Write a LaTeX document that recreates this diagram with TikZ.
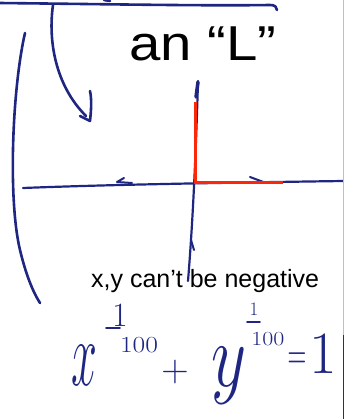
\RequirePackage{fix-cm}
\documentclass[tikz,border=0pt]{standalone}
\usepackage{fontspec}
\setmainfont{Liberation Sans}
\usepackage{graphicx}
\definecolor{pen}{RGB}{30,38,130}
\definecolor{redl}{RGB}{250,40,10}
\begin{document}
\begin{tikzpicture}[x=1pt,y=-1pt,
  penline/.style={draw=pen,line width=2.6pt,line cap=round,line join=round},
  axisline/.style={draw=pen,line width=2.2pt,line cap=round},
  barb/.style={draw=pen,line width=2pt,line cap=round,line join=round},
  fracbar/.style={draw=pen,line width=1.8pt,line cap=round},
  lshape/.style={draw=redl,line width=3pt},
  label/.style={inner sep=0pt,text=black},
  hand/.style={inner sep=0pt,text=pen}]
\useasboundingbox (0,0) rectangle (344,419);
% top line with hook
\draw[penline] (-2,3) .. controls (100,4) and (200,6) .. (270,5) .. controls (275,5) and (277,7) .. (277,10);
\draw[penline] (104,0) -- (110,1);
% curved arrow
\draw[penline] (53,5) .. controls (48,40) and (55,85) .. (86,116);
\draw[penline] (90,91) .. controls (92,100) and (91,112) .. (90,121) -- (80,116);
% left bracket
\draw[penline] (25,33) .. controls (12,90) and (8,200) .. (20,250) .. controls (26,275) and (33,292) .. (40,303);
% horizontal axis
\draw[axisline] (23,188) .. controls (100,185) and (200,183) .. (344,181);
\draw[barb] (132,183) -- (117,182) -- (124,178);
\draw[barb] (250,177) -- (266,183);
% vertical axis
\draw[axisline] (198,81) .. controls (196,150) and (193,220) .. (188,281);
\draw[draw=pen,line width=3.5pt,line cap=round] (198,82) -- (196,97);
\draw[barb] (191,240) -- (194,250);
% red L
\draw[lshape] (195,102) -- (195,183) -- (283,183);
% right edge
\draw[gray!50,line width=0.8pt] (343.6,0) -- (343.6,419);
\draw[black!80,line width=1.2pt] (343.6,335) -- (343.6,419);
% texts
\node[label,anchor=base west,font=\fontsize{49}{49}\selectfont] (title) at (129,61) {\scalebox{1.15}[1]{an “L”}};
\node[label,anchor=base west,font=\fontsize{25}{25}\selectfont] (note) at (91,287) {x,y can’t be negative};
% equation
\node[hand,font=\fontsize{93}{93}\selectfont] (ex) at (84,365) {\scalebox{0.5}[1]{$x$}};
\node[hand,font=\fontsize{34}{34}\selectfont] (s1n) at (120,316) {$1$};
\draw[fracbar] (106,328) -- (120,328);
\node[hand,font=\fontsize{23}{23}\selectfont] (s1d) at (139,345) {\scalebox{1.2}[1]{$100$}};
\node[hand,font=\fontsize{38}{38}\selectfont] (plus) at (175,372) {$+$};
\node[hand,font=\fontsize{91}{91}\selectfont] (why) at (229,376) {\scalebox{0.75}[1]{$y$}};
\node[hand,font=\fontsize{19}{19}\selectfont] (s2n) at (254,309) {$1$};
\draw[fracbar] (247,322) -- (260,322);
\node[hand,font=\fontsize{20}{20}\selectfont] (s2d) at (268,339) {\scalebox{1.2}[1]{$100$}};
\node[hand,font=\fontsize{26}{26}\selectfont] (eq) at (297,361) {\scalebox{1}[1.8]{$=$}};
\node[hand,font=\fontsize{60}{60}\selectfont] (one) at (323,354) {$1$};
\end{tikzpicture}
\end{document}
